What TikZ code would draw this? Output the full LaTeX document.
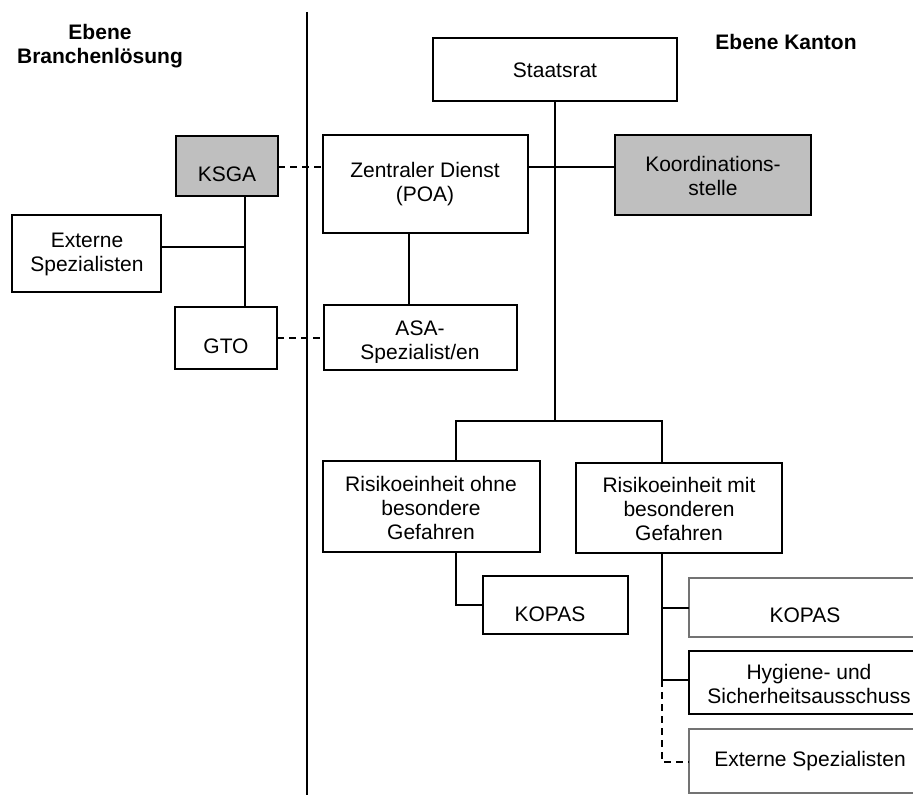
\documentclass[tikz,border=0pt]{standalone}
\usepackage{fontspec}
\setmainfont{Liberation Sans}
\begin{document}
\begin{tikzpicture}[x=1pt,y=-1pt,
  box/.style={draw=black,line width=1.8pt,fill=white},
  graybox/.style={draw=black,line width=1.8pt,fill=black!25},
  lightbox/.style={draw=black!55,line width=1.4pt,fill=white},
  conn/.style={line width=1.8pt},
  dconn/.style={line width=1.8pt,dash pattern=on 7pt off 5pt},
  txt/.style={font=\fontsize{21}{24}\selectfont,align=center,inner sep=0pt},
  head/.style={font=\fontsize{21}{24}\selectfont\bfseries,align=center,inner sep=0pt}]
\useasboundingbox (0,0) rectangle (913,805);
\clip (0,0) rectangle (913,805);
% headings
\node[head] (h1) at (100,46) {Ebene\\Branchenlösung};
\node[head] (h2) at (786,42) {Ebene Kanton};
% divider
\coordinate (dtop) at (307,12);
\coordinate (dbot) at (307,795);
\draw[line width=2pt] (dtop) -- (dbot);
% boxes
\draw[box] (433,38) rectangle (677,101); \node[txt] (staat) at (555,70) {Staatsrat};
\coordinate (staatB) at (555,101);
\draw[graybox] (176,136) rectangle (278,196); \node[txt] (ksga) at (227,174) {KSGA};
\draw[box] (323,135) rectangle (528,233); \node[txt] (zd) at (425,184) {Zentraler Dienst\\(POA)};
\draw[graybox] (615,135) rectangle (811,215); \node[txt] (koord) at (713,176) {Koordinations-\\stelle};
\draw[box] (12,215) rectangle (161,292); \node[txt] (extL) at (87,254) {Externe\\Spezialisten};
\draw[box] (175,307) rectangle (277,369); \node[txt] (gto) at (226,346) {GTO};
\draw[box] (324,305) rectangle (517,370);
\begin{scope}
\clip (325,306) rectangle (516,362.5);
\node[txt] (asa) at (420,342) {ASA-\\Spezialist/en};
\end{scope}
\draw[box] (323,461) rectangle (540,552); \node[txt] (rohne) at (431,508) {Risikoeinheit ohne\\besondere\\Gefahren};
\draw[box] (576,463) rectangle (782,553); \node[txt] (rmit) at (679,509) {Risikoeinheit mit\\besonderen\\Gefahren};
\draw[box] (483,576) rectangle (628,634); \node[txt] (kop1) at (550,614) {KOPAS};
\draw[lightbox] (689,578) rectangle (930,637); \node[txt] (kop2) at (805,615) {KOPAS};
\draw[box] (689,651) rectangle (930,714); \node[txt] (hyg) at (809,684) {Hygiene- und\\Sicherheitsausschuss};
\draw[lightbox] (689,729) rectangle (930,793); \node[txt] (extR) at (810,761) {Externe Spezialisten};
% connectors
\coordinate (ksgaR) at (278,167); \coordinate (zdL) at (323,167);
\draw[dconn] (ksgaR) -- (zdL);
\coordinate (zdR) at (528,167); \coordinate (koL) at (615,167);
\draw[conn] (zdR) -- (koL);
\coordinate (br) at (555,421);
\draw[conn] (staatB) -- (br);
\coordinate (ksgaB) at (245,196); \coordinate (gtoT) at (245,307);
\draw[conn] (ksgaB) -- (gtoT);
\coordinate (extLR) at (161,247); \coordinate (extJ) at (245,247);
\draw[conn] (extLR) -- (extJ);
\coordinate (gtoR) at (277,338); \coordinate (asaL) at (324,338);
\draw[dconn] (gtoR) -- (asaL);
\coordinate (zdB) at (409,233); \coordinate (asaT) at (409,305);
\draw[conn] (zdB) -- (asaT);
\coordinate (ohT) at (456,461); \coordinate (mitT) at (662,463);
\draw[conn] (ohT) -- (456,421) -- (662,421) -- (mitT);
\coordinate (ohB) at (456,552); \coordinate (kop1L) at (483,605);
\draw[conn] (ohB) |- (kop1L);
\coordinate (mitB) at (662,553); \coordinate (hygL) at (689,680); \coordinate (kop2L) at (689,608);
\draw[conn] (mitB) -- (662,680) -- (hygL);
\draw[conn] (662,608) -- (kop2L);
\coordinate (extRL) at (689,762);
\draw[dconn] (662,680) |- (extRL);
\end{tikzpicture}
\end{document}
